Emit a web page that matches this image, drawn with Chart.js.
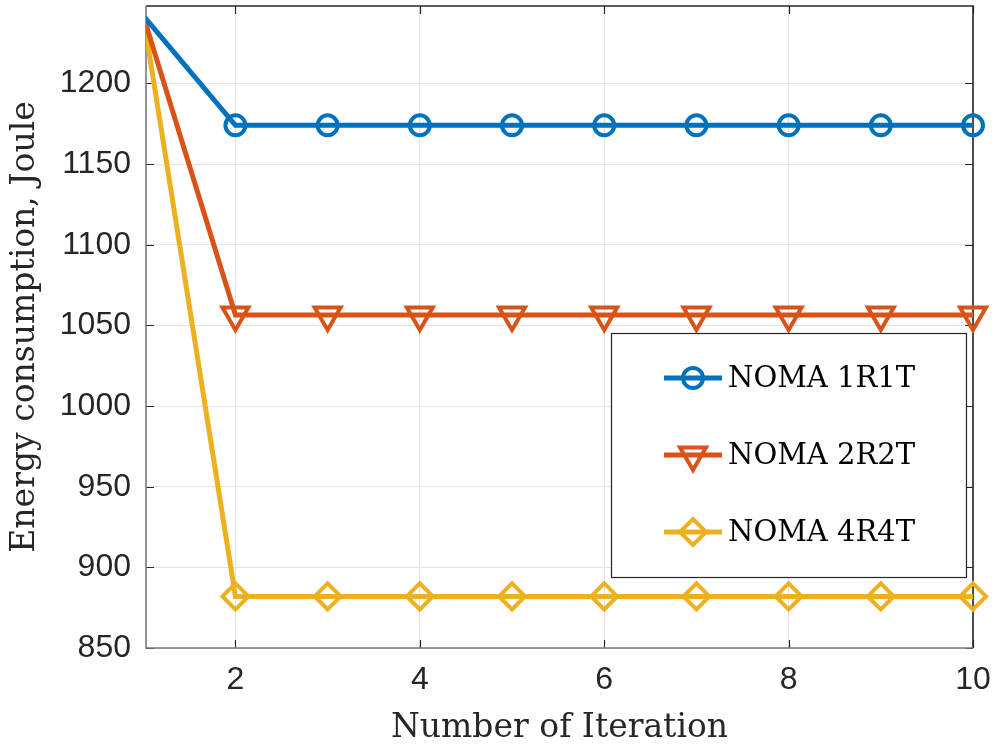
<!DOCTYPE html>
<html>
<head>
<meta charset="utf-8">
<script src="https://cdn.jsdelivr.net/npm/chart.js@4.4.0/dist/chart.umd.min.js"></script>
<style>
  html, body { margin: 0; padding: 0; background: #fff; }
</style>
</head>
<body>
<canvas id="energy" width="997" height="744"></canvas>
<script>
// Energy consumption vs. iteration for the three NOMA set-ups
const ITERATIONS = [1, 2, 3, 4, 5, 6, 7, 8, 9, 10];
const NOMA_1R1T = [1242, 1174, 1174, 1174, 1174, 1174, 1174, 1174, 1174, 1174];
const NOMA_2R2T = [1242, 1056.5, 1056.5, 1056.5, 1056.5, 1056.5, 1056.5, 1056.5, 1056.5, 1056.5];
const NOMA_4R4T = [1242, 882, 882, 882, 882, 882, 882, 882, 882, 882];
const SERIES_LABELS = ['NOMA 1R1T', 'NOMA 2R2T', 'NOMA 4R4T'];
const X_TICKS = [2, 4, 6, 8, 10];
const Y_TICKS = [850, 900, 950, 1000, 1050, 1100, 1150, 1200];

const COLORS = ['#0072BD', '#D95319', '#EDB120'];
const MARKERS = [
  { style: 'circle', radius: 10, rotation: 0 },
  { style: 'triangle', radius: 15, rotation: 180 },
  { style: 'rectRot', radius: 13, rotation: 0 }
];
const SANS = '"Liberation Sans", Arial, sans-serif';
const SERIF = '"DejaVu Serif", "Liberation Serif", serif';
const INK = '#262626';

const toPoints = vals => ITERATIONS.map((it, i) => ({ x: it, y: vals[i] }));

// markers whose centre falls left of the x-limit are not drawn
const markerRadius = r => ctx => {
  const xs = ctx.chart.scales.x;
  const p = ctx.raw;
  return p && p.x < xs.min ? 0 : r;
};

// keep the plot box exactly where the layout padding puts it
const noEdgePadding = s => {
  s.paddingTop = s.paddingBottom = s.paddingLeft = s.paddingRight = 0;
};

const datasets = [NOMA_1R1T, NOMA_2R2T, NOMA_4R4T].map((vals, i) => ({
  label: SERIES_LABELS[i],
  data: toPoints(vals),
  borderColor: COLORS[i],
  borderWidth: 5,
  pointStyle: MARKERS[i].style,
  pointRotation: MARKERS[i].rotation,
  pointRadius: markerRadius(MARKERS[i].radius),
  pointBorderWidth: 4,
  pointBorderColor: COLORS[i],
  pointBackgroundColor: 'rgba(0,0,0,0)',
  pointHoverRadius: MARKERS[i].radius,
  tension: 0,
  clip: { left: 0, top: false, right: false, bottom: false }
}));

// axes box with inward ticks on all four sides
const frame = {
  id: 'frame',
  beforeDatasetsDraw(chart) {
    const { ctx, chartArea: a, scales: { x, y } } = chart;
    ctx.save();
    ctx.strokeStyle = INK;
    ctx.lineWidth = 1.2;
    ctx.beginPath();
    X_TICKS.forEach(v => {
      const px = Math.round(x.getPixelForValue(v)) + 0.5;
      ctx.moveTo(px, a.bottom); ctx.lineTo(px, a.bottom - 8);
      ctx.moveTo(px, a.top); ctx.lineTo(px, a.top + 8);
    });
    Y_TICKS.forEach(v => {
      const py = Math.round(y.getPixelForValue(v)) + 0.5;
      ctx.moveTo(a.left, py); ctx.lineTo(a.left + 8, py);
      ctx.moveTo(a.right, py); ctx.lineTo(a.right - 8, py);
    });
    ctx.stroke();

    ctx.lineWidth = 1.6;
    ctx.strokeStyle = INK;
    ctx.beginPath();
    ctx.moveTo(a.left, a.top); ctx.lineTo(a.right, a.top); ctx.lineTo(a.right, a.bottom);
    ctx.stroke();
    ctx.strokeStyle = '#7a7a7a';
    ctx.beginPath();
    ctx.moveTo(a.left, a.top); ctx.lineTo(a.left, a.bottom); ctx.lineTo(a.right, a.bottom);
    ctx.stroke();
    ctx.restore();
  }
};

function drawMarker(ctx, kind, r, cx, cy) {
  ctx.beginPath();
  if (kind === 'circle') {
    ctx.arc(cx, cy, r, 0, Math.PI * 2);
  } else if (kind === 'triangle') {
    // pointing down
    const h = r * Math.sin(Math.PI / 3);
    ctx.moveTo(cx - h, cy - r / 2);
    ctx.lineTo(cx + h, cy - r / 2);
    ctx.lineTo(cx, cy + r);
    ctx.closePath();
  } else {
    ctx.moveTo(cx, cy - r); ctx.lineTo(cx + r, cy);
    ctx.lineTo(cx, cy + r); ctx.lineTo(cx - r, cy);
    ctx.closePath();
  }
  ctx.stroke();
}

// boxed legend inside the axes, lower right
const boxLegend = {
  id: 'boxLegend',
  afterDraw(chart) {
    const { ctx } = chart;
    const box = { x: 611, y: 333, w: 355, h: 244 };
    ctx.save();
    ctx.fillStyle = '#fff';
    ctx.fillRect(box.x, box.y, box.w, box.h);
    ctx.strokeStyle = INK;
    ctx.lineWidth = 1.2;
    ctx.strokeRect(box.x + 0.5, box.y + 0.5, box.w, box.h);

    ctx.font = '29px ' + SERIF;
    ctx.textBaseline = 'middle';
    ctx.fillStyle = '#000';
    SERIES_LABELS.forEach((label, i) => {
      const cy = box.y + 45 + i * 77;
      ctx.strokeStyle = COLORS[i];
      ctx.lineWidth = 5;
      ctx.beginPath();
      ctx.moveTo(box.x + 53, cy); ctx.lineTo(box.x + 111, cy);
      ctx.stroke();
      ctx.lineWidth = 4;
      drawMarker(ctx, MARKERS[i].style, MARKERS[i].radius, box.x + 82, cy);
      ctx.fillText(label, box.x + 117, cy + 1);
    });
    ctx.restore();
  }
};

new Chart(document.getElementById('energy'), {
  type: 'line',
  data: { datasets },
  plugins: [frame, boxLegend],
  options: {
    responsive: false,
    animation: false,
    layout: { autoPadding: false, padding: { top: 6, right: 24, left: 0, bottom: 0 } },
    plugins: { legend: { display: false }, tooltip: { enabled: false } },
    scales: {
      x: {
        type: 'linear',
        min: 1.03,
        max: 10,
        afterBuildTicks: s => { s.ticks = X_TICKS.map(v => ({ value: v })); },
        afterFit: s => { s.height = 96; noEdgePadding(s); },
        grid: { color: '#e3e3e3', lineWidth: 1, drawTicks: false },
        border: { display: false },
        ticks: { color: INK, font: { family: SANS, size: 32 }, padding: 13, maxRotation: 0, callback: v => String(v) },
        title: { display: true, text: 'Number of Iteration', color: INK, font: { family: SERIF, size: 33 }, padding: { top: 0, bottom: -4 } }
      },
      y: {
        min: 850,
        max: 1248,
        afterBuildTicks: s => { s.ticks = Y_TICKS.map(v => ({ value: v })); },
        afterFit: s => { s.width = 146; noEdgePadding(s); },
        grid: { color: '#e3e3e3', lineWidth: 1, drawTicks: false },
        border: { display: false },
        ticks: { color: INK, font: { family: SANS, size: 32 }, padding: 15, callback: v => String(v) },
        title: { display: true, text: 'Energy consumption, Joule', color: INK, font: { family: SERIF, size: 33 }, padding: { top: 6, bottom: 0 } }
      }
    }
  }
});
</script>
</body>
</html>
